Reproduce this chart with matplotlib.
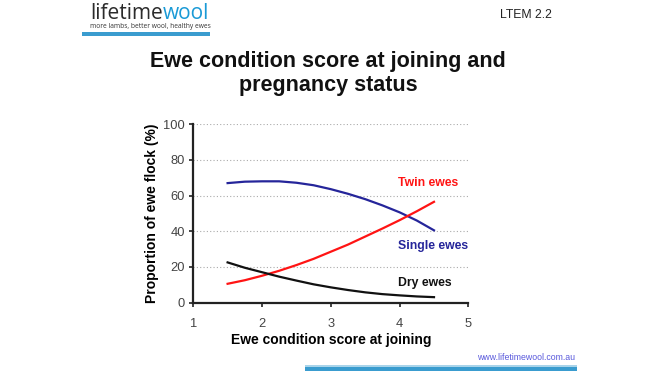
import matplotlib
matplotlib.use("Agg")
import matplotlib.pyplot as plt
from matplotlib.patches import Rectangle

plt.rcParams['font.family'] = ['Liberation Sans', 'DejaVu Sans']

# Data
condition_score = [1.5, 1.75, 2.0, 2.25, 2.5, 2.75, 3.0, 3.25, 3.5, 3.75, 4.0, 4.25, 4.5]
single_ewes = [67.0, 67.8, 68.0, 68.0, 67.2, 65.8, 63.6, 61.0, 58.0, 54.5, 50.6, 46.0, 40.5]
twin_ewes = [10.5, 12.5, 15.0, 17.8, 21.0, 24.5, 28.5, 32.5, 37.0, 41.5, 46.2, 51.2, 56.5]
dry_ewes = [22.5, 19.5, 17.0, 14.5, 12.3, 10.2, 8.5, 7.0, 5.7, 4.7, 4.0, 3.4, 3.0]
x_ticks = [1, 2, 3, 4, 5]
y_ticks = [0, 20, 40, 60, 80, 100]

W, H = 660, 371
fig = plt.figure(figsize=(6.6, 3.71), dpi=100)
fig.patch.set_facecolor('white')

ax = fig.add_axes([193.2 / W, 1 - 302.5 / H, (468.4 - 193.2) / W, (302.5 - 124.3) / H])
ax.set_xlim(1, 5)
ax.set_ylim(0, 100)

for yv in y_ticks[1:]:
    ax.axhline(yv, color='#aaaaaa', lw=0.8, ls=(0, (1, 2)), zorder=1)

ax.plot(condition_score, single_ewes, color='#25259a', lw=1.6, zorder=3)
ax.plot(condition_score, twin_ewes, color='#ff1414', lw=1.6, zorder=3)
ax.plot(condition_score, dry_ewes, color='#111111', lw=1.6, zorder=3)

ax.text(3.97, 67, 'Twin ewes', color='#ff1414', fontsize=8.8, fontweight='bold', va='center', ha='left')
ax.text(3.97, 31.7, 'Single ewes', color='#25259a', fontsize=8.8, fontweight='bold', va='center', ha='left')
ax.text(3.97, 10.9, 'Dry ewes', color='#111111', fontsize=8.8, fontweight='bold', va='center', ha='left')

ax.set_xticks(x_ticks)
ax.set_yticks(y_ticks)
ax.tick_params(axis='both', labelsize=9.3, colors='#222222', labelcolor='#444444', width=1.2, length=3, direction='out')
ax.tick_params(axis='x', pad=8)
ax.tick_params(axis='y', pad=3)
for s in ['top', 'right']:
    ax.spines[s].set_visible(False)
for s in ['left', 'bottom']:
    ax.spines[s].set_linewidth(1.6)
    ax.spines[s].set_color('#222222')

ax.set_xlabel('Ewe condition score at joining', fontsize=10, fontweight='bold', labelpad=2)
ax.set_ylabel('Proportion of ewe flock (%)', fontsize=10, fontweight='bold', labelpad=3)

# Title
fig.text(328 / W, 1 - 62 / H, 'Ewe condition score at joining and', ha='center', va='center',
         fontsize=15.5, fontweight='bold', color='#111111')
fig.text(328 / W, 1 - 85 / H, 'pregnancy status', ha='center', va='center',
         fontsize=15.5, fontweight='bold', color='#111111')

# Header logo
fig.text(90 / W, 1 - 19 / H, 'lifetime', ha='left', va='baseline', fontsize=15,
         family='Open Sans', color='#2b2b2b')
t1 = fig.text(0, 0, 'lifetime', fontsize=15, family='Open Sans')
fig.canvas.draw()
r = fig.canvas.get_renderer()
wpx = t1.get_window_extent(r).width
t1.remove()
fig.text((90 + wpx) / W, 1 - 19 / H, 'wool', ha='left', va='baseline', fontsize=15,
         family='Open Sans', color='#1a9ad6')
fig.text(90 / W, 1 - 28.5 / H, 'more lambs, better wool, healthy ewes', ha='left', va='baseline',
         fontsize=4.8, family='Open Sans', color='#333333')
fig.patches.append(Rectangle((82 / W, 1 - 35.5 / H), 128 / W, 3.5 / H, transform=fig.transFigure,
                             facecolor='#3a9ccf', edgecolor='none'))
fig.text(500 / W, 1 - 15 / H, 'LTEM 2.2', ha='left', va='center', fontsize=8.8, color='#222222')

# Footer
fig.text(477 / W, 1 - 357 / H, 'www.lifetimewool.com.au', ha='left', va='center', fontsize=6.3,
         color='#5a5adc')
fig.patches.append(Rectangle((305 / W, 0), 272 / W, 6.5 / H, transform=fig.transFigure,
                             facecolor='#3a9ccf', edgecolor='none'))
fig.patches.append(Rectangle((305 / W, 4.5 / H), 272 / W, 2 / H, transform=fig.transFigure,
                             facecolor='#a9d4ea', edgecolor='none'))

fig.savefig('out.png', dpi=100, facecolor='white')
